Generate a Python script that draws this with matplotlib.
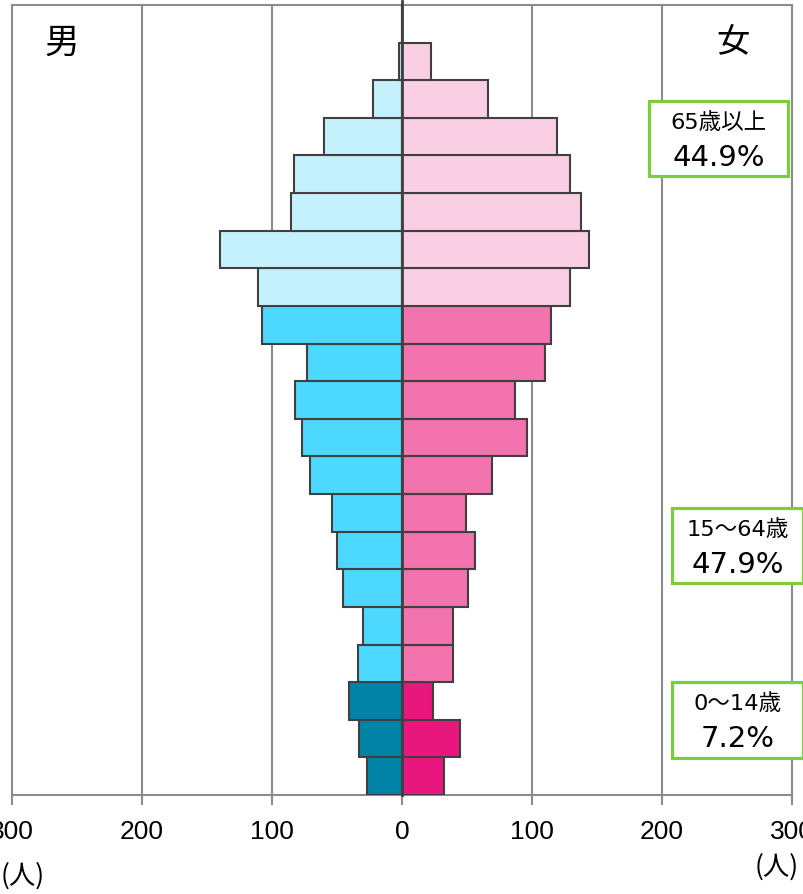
import matplotlib.pyplot as plt
from matplotlib.patches import Rectangle

# age groups from 0-4 (bottom) up to 100+ (top)
ages = ['0-4', '5-9', '10-14', '15-19', '20-24', '25-29', '30-34', '35-39',
        '40-44', '45-49', '50-54', '55-59', '60-64', '65-69', '70-74',
        '75-79', '80-84', '85-89', '90-94', '95-99', '100+']
male = [27, 33, 41, 34, 30, 45, 50, 54, 71, 77, 82, 73, 108, 111, 140,
        85, 83, 60, 22, 2, 0]
female = [32, 45, 24, 39, 39, 51, 56, 49, 69, 96, 87, 110, 115, 129, 144,
          138, 129, 119, 66, 22, 0]

# 3 age bands: 0-14, 15-64, 65+
band_of_row = [0] * 3 + [1] * 10 + [2] * 8
male_colors = ['#0083A6', '#4DD9FF', '#C5F1FD']
female_colors = ['#E8177D', '#F273AE', '#FACFE3']

band_labels = ['0～14歳', '15～64歳', '65歳以上']
band_shares = ['7.2%', '47.9%', '44.9%']

xticks = [-300, -200, -100, 0, 100, 200, 300]

jp = ['Noto Sans CJK JP', 'DejaVu Sans']
mixed = ['DejaVu Sans', 'Noto Sans CJK JP']

fig = plt.figure(figsize=(8.04, 8.94), dpi=100)
ax = fig.add_axes([12 / 804, 99 / 894, 780 / 804, 790 / 894])

y = list(range(len(ages)))
mc = [male_colors[b] for b in band_of_row]
fc = [female_colors[b] for b in band_of_row]
ax.barh(y, [-m for m in male], height=1.0, color=mc, edgecolor='#404040',
        linewidth=1.5, zorder=3)
ax.barh(y, female, height=1.0, color=fc, edgecolor='#404040',
        linewidth=1.5, zorder=3)

ax.set_xlim(-300, 300)
ax.set_ylim(-0.5, len(ages) - 0.5)

# grid and frame
for x in [-200, -100, 100, 200]:
    ax.axvline(x, color='#8C8C8C', linewidth=1.5, zorder=1)
ax.axvline(0, ymin=0, ymax=1 + 4 / 790, color='#404040', linewidth=2,
           zorder=4, clip_on=False)
for side in ['top', 'left', 'right', 'bottom']:
    ax.spines[side].set_color('#8C8C8C')
    ax.spines[side].set_linewidth(1.5)

ax.set_yticks([])
ax.set_xticks(xticks)
ax.set_xticklabels([str(abs(t)) for t in xticks], family='Liberation Sans',
                   fontsize=19)
ax.tick_params(axis='x', direction='out', length=7, width=1.5,
               color='#8C8C8C', pad=11)

ax.text((62 - 12) / 780, (795 - 43) / 790, '男', transform=ax.transAxes,
        fontsize=25, family=jp, ha='center', va='center')
ax.text((733 - 12) / 780, (795 - 43) / 790, '女', transform=ax.transAxes,
        fontsize=24, family=jp, ha='center', va='center')

fig.text(1 / 804, 1 - 876 / 894, '(人)', fontsize=19, family=jp, ha='left',
         va='center')
fig.text(755 / 804, 1 - 867 / 894, '(人)', fontsize=19, family=jp,
         ha='left', va='center')

# share boxes (figure pixel coords: x0, y0 top, x1, y1 bottom)
boxes = [(672, 682, 803, 758), (672, 508, 803, 583), (649, 101, 788, 176)]
for (x0, y0, x1, y1), lab, share in zip(boxes, band_labels, band_shares):
    fig.patches.append(Rectangle((x0 / 804, 1 - y1 / 894),
                                 (x1 - x0) / 804, (y1 - y0) / 894,
                                 transform=fig.transFigure,
                                 facecolor='white', edgecolor='#7DCC3C',
                                 linewidth=2.3, zorder=5))
    cx = (x0 + x1) / 2 / 804
    fig.text(cx, 1 - (y0 + 22) / 894, lab, fontsize=16.2, family=mixed,
             ha='center', va='center', zorder=6)
    fig.text(cx, 1 - (y0 + 57) / 894, share, fontsize=21, family=mixed,
             ha='center', va='center', zorder=6)

fig.savefig('out.png', dpi=100)
